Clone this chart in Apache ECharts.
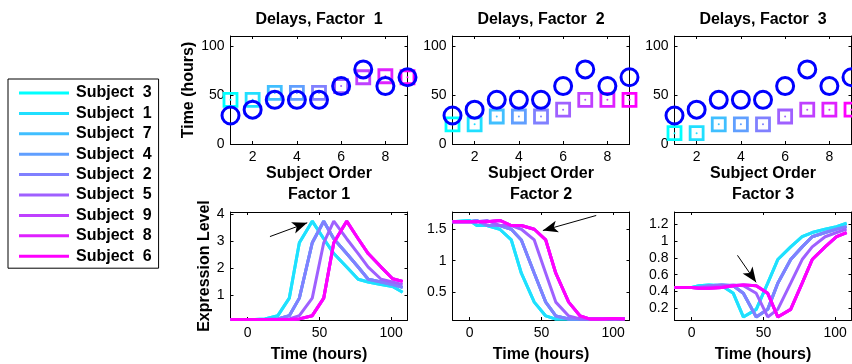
<!DOCTYPE html>
<html><head><meta charset="utf-8">
<script src="https://cdn.jsdelivr.net/npm/echarts@6/dist/echarts.min.js"></script>
<style>html,body{margin:0;padding:0;background:#fff}#c{width:852px;height:364px}</style>
</head><body><div id="c"></div>
<script>
// ---------- data ----------
const subjects = ['Subject  3','Subject  1','Subject  7','Subject  4','Subject  2','Subject  5','Subject  9','Subject  8','Subject  6'];
const subjectOrder = [1,2,3,4,5,6,7,8,9];
const circleDelays = [29,35,45,45,45,59,76,59,68];
const squareDelaysF1 = [45,45,52,52,52,59,68,69,68];
const squareDelaysF2 = [20,20,28,28,28,35,45,45,45];
const squareDelaysF3 = [11,11,20,20,20,28,35,35,35];
const topTitles = ['Delays, Factor  1','Delays, Factor  2','Delays, Factor  3'];
const bottomTitles = ['Factor 1','Factor 2','Factor 3'];
const topXTicks = [2,4,6,8];
const topYTicks = [0,50,100];
const timeTicks = [0,50,100];
const f1Ticks = [1,2,3,4];
const f2Ticks = [0.5,1,1.5];
const f3Ticks = [0.2,0.4,0.6,0.8,1,1.2];
const times = [-12,0,5,12,21,29,36,45,53,60,69,77,84,93,101,108];
// curve group used by each subject (subjects with equal delay share a curve)
const groupOfSubject = [0,0,1,1,1,2,3,3,3];
const f1Curves = [
  [0.11,0.11,0.11,0.13,0.25,0.9,2.95,3.75,3.1,2.55,2.05,1.6,1.5,1.4,1.33,1.12],
  [0.11,0.11,0.11,0.11,0.13,0.25,0.9,2.95,3.75,3.1,2.55,2.05,1.6,1.5,1.4,1.3],
  [0.11,0.11,0.11,0.11,0.11,0.13,0.25,0.9,2.95,3.75,3.1,2.55,2.05,1.6,1.5,1.4],
  [0.11,0.11,0.11,0.11,0.11,0.11,0.13,0.25,0.9,2.95,3.75,3.1,2.55,2.05,1.62,1.52]
];
const f2Curves = [
  [1.62,1.64,1.56,1.56,1.5,1.33,0.8,0.34,0.12,0.07,0.07,0.07,0.08,0.07,0.08,0.07],
  [1.62,1.62,1.64,1.56,1.56,1.5,1.33,0.8,0.34,0.12,0.07,0.07,0.07,0.08,0.07,0.08],
  [1.62,1.62,1.62,1.64,1.56,1.56,1.5,1.33,0.8,0.34,0.12,0.07,0.07,0.07,0.08,0.07],
  [1.62,1.62,1.62,1.62,1.64,1.56,1.56,1.5,1.33,0.8,0.34,0.12,0.07,0.07,0.08,0.07]
];
const f3Curves = [
  [0.45,0.45,0.47,0.48,0.47,0.38,0.1,0.19,0.5,0.78,0.93,1.05,1.1,1.14,1.17,1.21],
  [0.45,0.45,0.45,0.47,0.48,0.47,0.38,0.1,0.19,0.5,0.78,0.93,1.05,1.1,1.14,1.17],
  [0.45,0.45,0.45,0.45,0.47,0.48,0.47,0.38,0.1,0.19,0.5,0.78,0.93,1.05,1.1,1.14],
  [0.45,0.45,0.44,0.44,0.45,0.47,0.48,0.47,0.38,0.1,0.19,0.5,0.78,0.93,1.05,1.1]
];
// arrow annotations [startT, startV, tipT, tipV]
const arrowF1 = [15.5,3.18,41.5,3.69];
const arrowF2 = [88.2,1.72,51,1.48];
const arrowF3 = [31.9,0.83,44.9,0.51];

// ---------- styles ----------
const cool = ['#00ffff','#20dfff','#40bfff','#609fff','#8080ff','#9f60ff','#bf40ff','#df20ff','#ff00ff'];
const FONT = 'Liberation Sans, Arial, Helvetica, sans-serif';
const panelLefts = [230.5, 452.5, 674.5];
const panelW = 177;
const topRow = {top: 36, height: 108};
const botRow = {top: 212, height: 110};

const grids = [], xAxes = [], yAxes = [], series = [], graphics = [];

function addAxes(g, xr, yr, xticks, yticks, xname, xgap, yname, ygap, ylabMargin) {
  const base = {
    type: 'value', gridIndex: g, splitLine: {show: false},
    axisLine: {show: true, onZero: false, lineStyle: {color: '#000', width: 1}},
  };
  const nameStyle = {fontSize: 16, fontWeight: 'bold', color: '#000', fontFamily: FONT};
  const xi = xAxes.length, yi = yAxes.length;
  xAxes.push(Object.assign({}, base, {
    position: 'bottom', min: xr[0], max: xr[1],
    axisTick: {show: true, inside: true, length: 3, customValues: xticks, lineStyle: {color: '#000'}},
    axisLabel: {show: true, customValues: xticks, margin: 6, color: '#000', fontSize: 14, fontFamily: FONT},
    name: xname, nameLocation: 'middle', nameGap: xgap, nameTextStyle: nameStyle
  }));
  xAxes.push(Object.assign({}, base, {
    position: 'top', min: xr[0], max: xr[1],
    axisTick: {show: true, inside: true, length: 3, customValues: xticks, lineStyle: {color: '#000'}},
    axisLabel: {show: false}
  }));
  yAxes.push(Object.assign({}, base, {
    position: 'left', min: yr[0], max: yr[1],
    axisTick: {show: true, inside: true, length: 3, customValues: yticks, lineStyle: {color: '#000'}},
    axisLabel: {show: true, customValues: yticks, margin: ylabMargin, color: '#000', fontSize: 14, fontFamily: FONT},
    name: yname, nameLocation: 'middle', nameGap: ygap, nameTextStyle: nameStyle
  }));
  yAxes.push(Object.assign({}, base, {
    position: 'right', min: yr[0], max: yr[1],
    axisTick: {show: true, inside: true, length: 3, customValues: yticks, lineStyle: {color: '#000'}},
    axisLabel: {show: false}
  }));
  return {xi, yi};
}

const squareSets = [squareDelaysF1, squareDelaysF2, squareDelaysF3];
const curveSets = [f1Curves, f2Curves, f3Curves];
const tickSets = [f1Ticks, f2Ticks, f3Ticks];
const yRanges = [[0.09, 4.09], [0.055, 1.775], [0.064, 1.343]];
const arrows = [arrowF1, arrowF2, arrowF3];

// top row
for (let p = 0; p < 3; p++) {
  grids.push({left: panelLefts[p], top: topRow.top, width: panelW, height: topRow.height});
  const g = grids.length - 1;
  const a = addAxes(g, [1, 9], [0, 110], topXTicks, topYTicks,
    'Subject Order', 22, p === 0 ? 'Time (hours)' : '', 34, 6);
  const sq = squareSets[p];
  series.push({
    type: 'scatter', name: 'sq' + p, xAxisIndex: a.xi, yAxisIndex: a.yi, clip: false,
    symbol: 'rect', symbolSize: 13, z: 2,
    data: subjectOrder.map((s, i) => ({value: [s, sq[i]], itemStyle: {color: 'rgba(0,0,0,0)', borderColor: cool[i], borderWidth: 2.8, opacity: 1}}))
  });
  series.push({
    type: 'scatter', name: 'dot' + p, xAxisIndex: a.xi, yAxisIndex: a.yi, clip: false,
    symbol: 'circle', symbolSize: 2, z: 3,
    data: subjectOrder.map((s, i) => ({value: [s, sq[i]], itemStyle: {color: cool[i], opacity: 1}}))
  });
  series.push({
    type: 'scatter', name: 'circ' + p, xAxisIndex: a.xi, yAxisIndex: a.yi, clip: false,
    symbol: 'circle', symbolSize: 17, z: 4,
    itemStyle: {color: 'rgba(0,0,0,0)', borderColor: '#0000ff', borderWidth: 3, opacity: 1},
    data: subjectOrder.map((s, i) => [s, circleDelays[i]])
  });
  graphics.push({type: 'text', x: panelLefts[p] + panelW / 2, y: 19.5,
    style: {text: topTitles[p], align: 'center', verticalAlign: 'middle', font: 'bold 16px ' + FONT, fill: '#000'}});
}
// bottom row
for (let p = 0; p < 3; p++) {
  grids.push({left: panelLefts[p], top: botRow.top, width: panelW, height: botRow.height});
  const g = grids.length - 1;
  const a = addAxes(g, [-12, 111.4], yRanges[p], timeTicks, tickSets[p],
    'Time (hours)', 27, p === 0 ? 'Expression Level' : '', 16, 6);
  const curves = curveSets[p];
  subjects.forEach((name, i) => {
    const c = curves[groupOfSubject[i]];
    series.push({
      type: 'line', name: name, xAxisIndex: a.xi, yAxisIndex: a.yi,
      showSymbol: false, symbol: 'none', z: 2 + i * 0.01,
      color: cool[i], lineStyle: {width: 3, color: cool[i]},
      data: times.map((t, j) => [t, c[j]]),
      markLine: i === 8 ? {
        silent: true, symbol: ['none', 'arrow'], symbolSize: [9, 15],
        label: {show: false},
        lineStyle: {color: '#000', width: 1, type: 'solid'},
        itemStyle: {color: '#000'},
        data: [[{coord: [arrows[p][0], arrows[p][1]]}, {coord: [arrows[p][2], arrows[p][3]]}]]
      } : undefined
    });
  });
  graphics.push({type: 'text', x: panelLefts[p] + panelW / 2, y: 195,
    style: {text: bottomTitles[p], align: 'center', verticalAlign: 'middle', font: 'bold 16px ' + FONT, fill: '#000'}});
}

const chart = echarts.init(document.getElementById('c'), null, {renderer: 'canvas'});
chart.setOption({
  animation: false,
  backgroundColor: '#fff',
  grid: grids, xAxis: xAxes, yAxis: yAxes, series: series, graphic: graphics,
  legend: {
    orient: 'vertical', left: 8, top: 79, itemGap: 4.4, itemWidth: 50, itemHeight: 3, icon: 'rect',
    padding: [6, 7, 4, 11], borderColor: '#000', borderWidth: 1, borderRadius: 0, backgroundColor: '#fff',
    selectedMode: false,
    textStyle: {fontSize: 16, fontWeight: 'bold', color: '#000', fontFamily: FONT, lineHeight: 16, padding: [0, 0, 0, 2]},
    data: subjects
  }
});
</script>
</body></html>
